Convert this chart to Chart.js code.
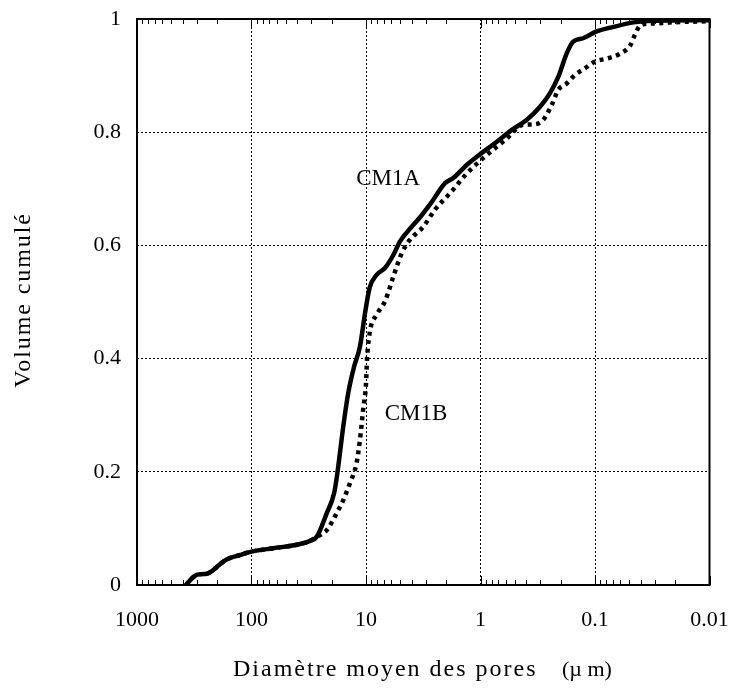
<!DOCTYPE html>
<html><head><meta charset="utf-8">
<script src="https://cdn.jsdelivr.net/npm/chart.js@4/dist/chart.umd.min.js"></script>
<style>html,body{margin:0;padding:0;background:#fff}#wrap{width:730px;height:690px;position:relative}</style>
</head><body><div id="wrap"><canvas id="c" width="730" height="690"></canvas></div>
<script>
// ---- data ----
const diamTicks = [1000, 100, 10, 1, 0.1, 0.01];
const volTicks = [0, 0.2, 0.4, 0.6, 0.8, 1];
const seriesNames = ['CM1A', 'CM1B'];
const cm1aDiam = [373, 330, 301, 246, 220, 201, 165, 126, 100, 64.5, 40.3, 30.8, 27, 22, 19, 17.8, 15.8, 14.3, 12.7, 11.3, 10.2, 9.3, 8.07, 6.83, 5.77, 5.05, 3.99, 3.3, 2.7, 2.04, 1.73, 1.32, 0.98, 0.72, 0.533, 0.394, 0.302, 0.247, 0.209, 0.177, 0.155, 0.127, 0.0967, 0.069, 0.046, 0.031, 0.01];
const cm1aVol  = [0, 0.012, 0.018, 0.02, 0.025, 0.032, 0.045, 0.053, 0.059, 0.065, 0.071, 0.078, 0.085, 0.127, 0.162, 0.197, 0.28, 0.339, 0.386, 0.421, 0.48, 0.525, 0.548, 0.56, 0.583, 0.607, 0.633, 0.652, 0.675, 0.71, 0.719, 0.742, 0.763, 0.783, 0.804, 0.822, 0.845, 0.869, 0.898, 0.939, 0.96, 0.966, 0.978, 0.986, 0.994, 0.997, 0.998];
const cm1bDiam = [373, 330, 301, 246, 220, 201, 165, 126, 100, 64.5, 40.3, 30.8, 27, 22, 18.7, 15.8, 13.8, 12.1, 11.3, 10.6, 10, 9.8, 9.2, 8.1, 6.8, 5.77, 4.88, 4.13, 3.16, 2.5, 1.79, 1.32, 0.914, 0.611, 0.423, 0.334, 0.283, 0.239, 0.209, 0.177, 0.15, 0.122, 0.1, 0.079, 0.06, 0.049, 0.0448, 0.04, 0.031, 0.022, 0.01];
const cm1bVol  = [0, 0.012, 0.018, 0.02, 0.025, 0.032, 0.045, 0.053, 0.059, 0.065, 0.071, 0.078, 0.085, 0.097, 0.121, 0.15, 0.18, 0.215, 0.256, 0.309, 0.356, 0.398, 0.45, 0.477, 0.502, 0.545, 0.586, 0.61, 0.633, 0.663, 0.695, 0.727, 0.757, 0.786, 0.813, 0.814, 0.822, 0.848, 0.875, 0.886, 0.901, 0.913, 0.925, 0.93, 0.939, 0.954, 0.972, 0.989, 0.992, 0.994, 0.996];
const labelAt = { CM1A: [6.4, 0.717], CM1B: [3.66, 0.302] };
const xTitle = 'Diamètre moyen des pores';
const xUnit = '(µ m)';
const yTitle = 'Volume cumulé';

const SERIF = "'Liberation Serif', 'Times New Roman', serif";
const toPts = (xs, ys) => xs.map((x, i) => ({ x: x, y: ys[i] }));

const decorPlugin = {
  id: 'decor',
  afterDraw(chart) {
    const ctx = chart.ctx, a = chart.chartArea;
    const xs = chart.scales.x;
    ctx.save();
    ctx.strokeStyle = '#000';
    ctx.lineWidth = 1;
    ctx.beginPath();
    for (let e = -2; e < 3; e++) {
      const d = Math.pow(10, e);
      for (let k = 2; k <= 9; k++) {
        const px = Math.round(xs.getPixelForValue(d * k)) + 0.5;
        ctx.moveTo(px, a.bottom); ctx.lineTo(px, a.bottom - 5);
        ctx.moveTo(px, a.top); ctx.lineTo(px, a.top + 5);
      }
    }
    diamTicks.forEach(v => {
      const px = Math.round(xs.getPixelForValue(v)) + 0.5;
      ctx.moveTo(px, a.bottom); ctx.lineTo(px, a.bottom - 9);
      ctx.moveTo(px, a.top); ctx.lineTo(px, a.top + 9);
    });
    ctx.stroke();
    ctx.lineWidth = 2;
    ctx.strokeRect(a.left, a.top, a.right - a.left, a.bottom - a.top);
    ctx.fillStyle = '#000';
    ctx.font = '23px ' + SERIF;
    ctx.textAlign = 'center';
    ctx.textBaseline = 'middle';
    seriesNames.forEach(n => {
      const p = labelAt[n];
      ctx.fillText(n, xs.getPixelForValue(p[0]), chart.scales.y.getPixelForValue(p[1]));
    });
    ctx.textAlign = 'left';
    ctx.textBaseline = 'alphabetic';
    ctx.font = '24px ' + SERIF;
    try { ctx.letterSpacing = '2px'; } catch (e) {}
    ctx.fillText(xTitle, 233, 676);
    ctx.font = '22px ' + SERIF;
    try { ctx.letterSpacing = '0px'; } catch (e) {}
    ctx.fillText(xUnit, 562, 676);
    ctx.font = '24px ' + SERIF;
    try { ctx.letterSpacing = '1.9px'; } catch (e) {}
    ctx.translate(24, 300);
    ctx.rotate(-Math.PI / 2);
    ctx.textAlign = 'center';
    ctx.textBaseline = 'middle';
    ctx.fillText(yTitle, 0, 0);
    ctx.restore();
  }
};

new Chart(document.getElementById('c'), {
  type: 'line',
  data: {
    datasets: [
      { label: seriesNames[0], data: toPts(cm1aDiam, cm1aVol), borderColor: '#000', borderWidth: 4.5,
        pointRadius: 0, fill: false, cubicInterpolationMode: 'monotone', borderCapStyle: 'round', borderJoinStyle: 'round' },
      { label: seriesNames[1], data: toPts(cm1bDiam, cm1bVol), borderColor: '#000', borderWidth: 4.5,
        borderDash: [4, 4.5], borderCapStyle: 'butt', pointRadius: 0, fill: false, cubicInterpolationMode: 'monotone' }
    ]
  },
  options: {
    responsive: false,
    devicePixelRatio: 1,
    animation: false,
    layout: { padding: { left: 0, right: 20.5, top: 19, bottom: 0 } },
    plugins: { legend: { display: false }, tooltip: { enabled: false } },
    scales: {
      x: {
        type: 'logarithmic', reverse: true, min: 0.01, max: 1000,
        afterBuildTicks: s => { s.ticks = diamTicks.map(v => ({ value: v })); },
        afterFit: s => { s.height = 105; s.paddingLeft = 0; s.paddingRight = 0; },
        ticks: { callback: v => String(v), font: { family: SERIF, size: 22 }, color: '#000',
                 padding: 22, maxRotation: 0, autoSkip: false },
        grid: { color: '#000', lineWidth: 1, drawTicks: false },
        border: { display: false, dash: [2, 2] }
      },
      y: {
        type: 'linear', min: 0, max: 1,
        afterBuildTicks: s => { s.ticks = volTicks.map(v => ({ value: v })); },
        afterFit: s => { s.width = 137; s.paddingTop = 0; s.paddingBottom = 0; },
        ticks: { callback: v => String(v), font: { family: SERIF, size: 22 }, color: '#000', padding: 16 },
        grid: { color: '#000', lineWidth: 1, drawTicks: false },
        border: { display: false, dash: [2, 2] }
      }
    }
  },
  plugins: [decorPlugin]
});
</script>
</body></html>
